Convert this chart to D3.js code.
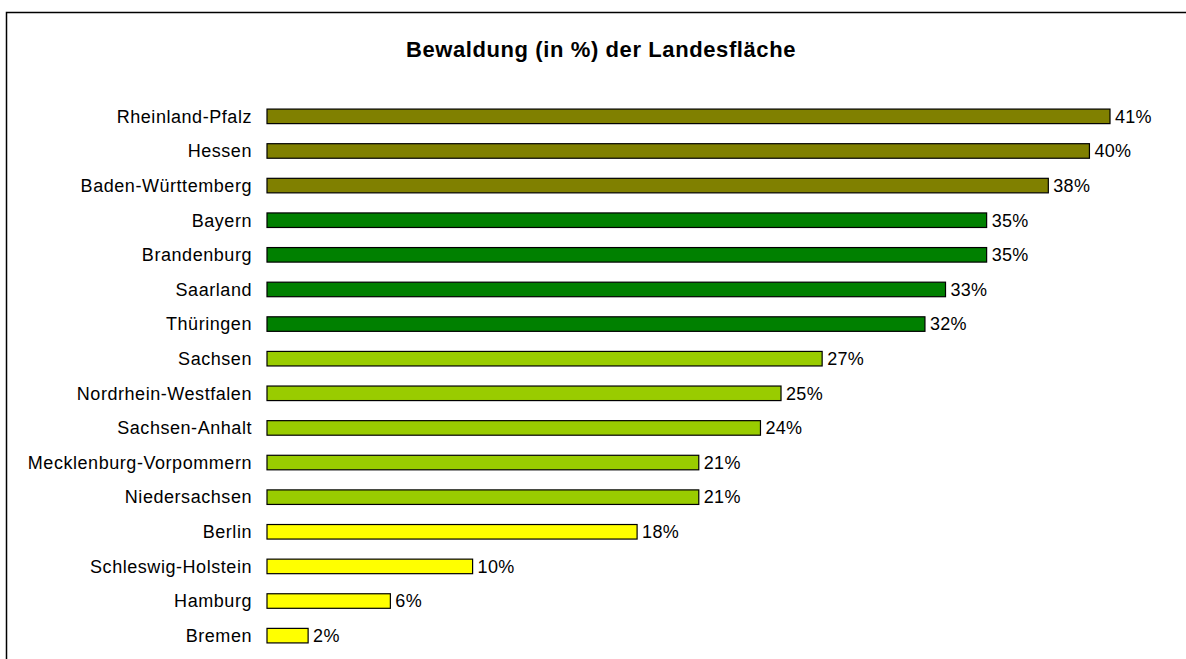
<!DOCTYPE html>
<html>
<head>
<meta charset="utf-8">
<script src="https://cdn.jsdelivr.net/npm/d3@7"></script>
<style>
    body { margin: 0; background: #fff; }
    text { font-family: Arial, "Liberation Sans", sans-serif; fill: #000; }
</style>
</head>
<body>
<div id="chart"></div>
<script>
// Forest cover per federal state (% of land area)
let states = ["Rheinland-Pfalz", "Hessen", "Baden-Württemberg", "Bayern", "Brandenburg",
    "Saarland", "Thüringen", "Sachsen", "Nordrhein-Westfalen", "Sachsen-Anhalt",
    "Mecklenburg-Vorpommern", "Niedersachsen", "Berlin", "Schleswig-Holstein", "Hamburg", "Bremen"];
let forestShare = [41, 40, 38, 35, 35, 33, 32, 27, 25, 24, 21, 21, 18, 10, 6, 2];
let title = "Bewaldung (in %) der Landesfläche";

let width = 1186, height = 659;

let svg = d3.select("#chart").append("svg")
    .attr("width", width)
    .attr("height", height);

// outer frame (runs off the right and bottom edge)
svg.append("rect")
    .attr("x", 6.5)
    .attr("y", 12.5)
    .attr("width", 1200)
    .attr("height", 700)
    .style("fill", "none")
    .style("stroke", "#000")
    .style("stroke-width", 1.5);

svg.append("text")
    .attr("x", 601)
    .attr("y", 57)
    .style("text-anchor", "middle")
    .style("font-size", "22px")
    .style("font-weight", "bold")
    .style("letter-spacing", "0.6px")
    .text(title);

let data = states.map((s, i) => ({ state: s, value: forestShare[i] }));

let x = d3.scaleLinear()
    .domain([0, 41])
    .range([267, 1110]);

let y = d3.scaleBand()
    .domain(states)
    .range([89, 663])
    .padding(0.58);

// colour classes by share
let colour = d3.scaleThreshold()
    .domain([20, 30, 36])
    .range(["#ffff00", "#99cc00", "#008000", "#808000"]);

let yAxis = d3.axisLeft(y).tickSize(0).tickPadding(15);
let axisG = svg.append("g")
    .attr("transform", `translate(${x(0)},0)`)
    .call(yAxis);
axisG.select(".domain").remove();
axisG.selectAll("text")
    .attr("dy", "0.35em")
    .style("font-size", "18px")
    .style("letter-spacing", "0.55px")
    .style("font-family", "Arial, 'Liberation Sans', sans-serif");

svg.selectAll(".bar")
    .data(data)
    .enter()
    .append("rect")
    .attr("class", "bar")
    .attr("x", x(0))
    .attr("y", d => y(d.state))
    .attr("width", d => x(d.value) - x(0))
    .attr("height", y.bandwidth())
    .style("fill", d => colour(d.value))
    .style("stroke", "#000")
    .style("stroke-width", 1.2);

svg.selectAll(".val")
    .data(data)
    .enter()
    .append("text")
    .attr("class", "val")
    .attr("x", d => x(d.value) + 5)
    .attr("y", d => y(d.state) + y.bandwidth() / 2)
    .attr("dy", "0.35em")
    .style("font-size", "18px")
    .style("letter-spacing", "0.3px")
    .text(d => d.value + "%");
</script>
</body>
</html>
